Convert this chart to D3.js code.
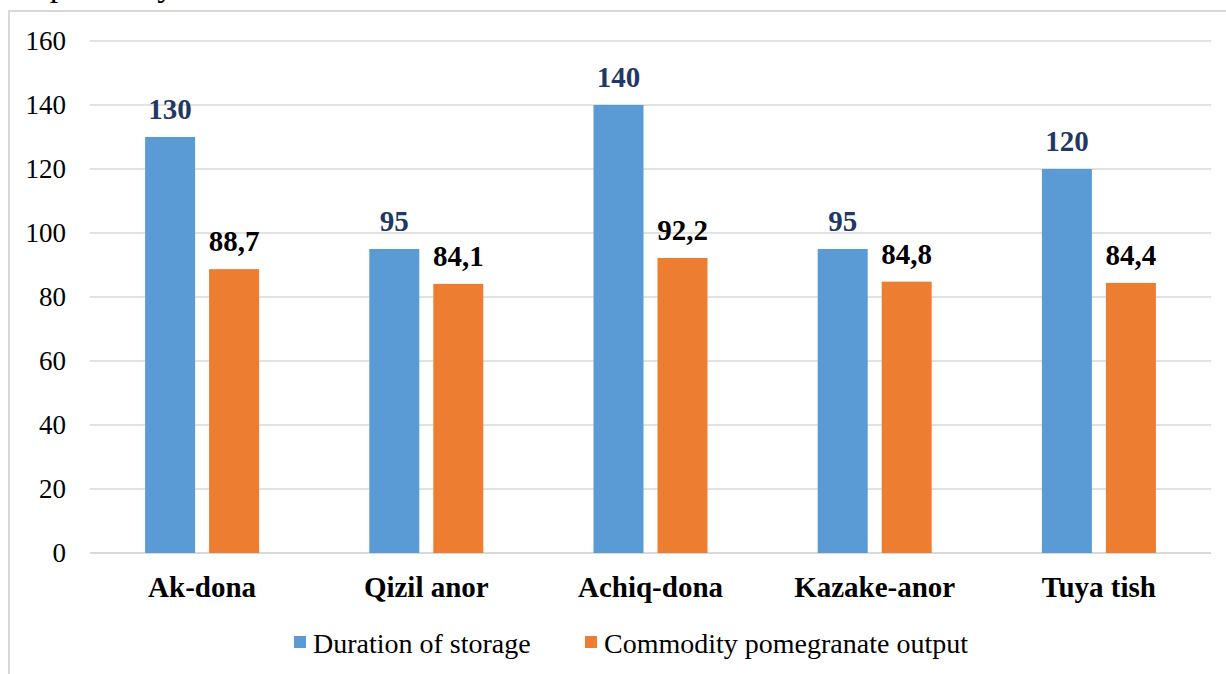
<!DOCTYPE html>
<html>
<head>
<meta charset="utf-8">
<script src="https://cdn.jsdelivr.net/npm/d3@7"></script>
</head>
<body style="margin:0">
<svg id="chart" width="1226" height="674" style="display:block"></svg>
<script>
// Pomegranate varieties and their measured values
const categories = ["Ak-dona", "Qizil anor", "Achiq-dona", "Kazake-anor", "Tuya tish"];
const storageDuration = [130, 95, 140, 95, 120];
const commodityOutput = [88.7, 84.1, 92.2, 84.8, 84.4];
const storageLabels = ["130", "95", "140", "95", "120"];
const outputLabels = ["88,7", "84,1", "92,2", "84,8", "84,4"];
const seriesNames = ["Duration of storage", "Commodity pomegranate output"];
const yTicks = [0, 20, 40, 60, 80, 100, 120, 140, 160];

const colors = ["#5B9BD5", "#ED7D31"];
const labelColors = ["#1F3864", "#000000"];
const FONT = '"Liberation Serif"';

const svg = d3.select("#chart");
const W = 1226, H = 674;

// Text line above the chart frame (only its lower part is in view)
svg.append("text")
  .attr("x", 10).attr("y", -4)
  .style("font-family", FONT)
  .style("font-size", "34px")
  .attr("fill", "#000")
  .text("respectively");

// Chart frame
svg.append("rect")
  .attr("x", 9).attr("y", 11)
  .attr("width", W + 10).attr("height", H + 10)
  .attr("fill", "none")
  .attr("stroke", "#D9D9D9")
  .attr("stroke-width", 2);

const plot = { left: 90, right: 1211, top: 41, bottom: 553 };

const x = d3.scaleBand()
  .domain(categories)
  .range([plot.left, plot.right]);

const y = d3.scaleLinear()
  .domain([0, 160])
  .range([plot.bottom, plot.top]);

const barW = 50, barGap = 14;

// Gridlines
svg.append("g")
  .selectAll("line")
  .data(yTicks)
  .join("line")
  .attr("x1", plot.left).attr("x2", plot.right)
  .attr("y1", d => y(d)).attr("y2", d => y(d))
  .attr("stroke", "#D9D9D9")
  .attr("stroke-width", d => d === 0 ? 2 : 1.5);

// Y axis tick labels
const yAxis = d3.axisLeft(y).tickValues(yTicks).tickSize(0).tickPadding(0).tickFormat(d3.format("d"));
const gy = svg.append("g")
  .attr("transform", `translate(66,0)`)
  .call(yAxis);
gy.select(".domain").remove();
gy.attr("font-family", null).attr("font-size", null);
gy.selectAll("text")
  .style("font-family", FONT)
  .style("font-size", "27px")
  .attr("fill", "#000")
  .attr("dy", "0.33em");

// X axis category labels
const xAxis = d3.axisBottom(x).tickSize(0).tickPadding(0);
const gx = svg.append("g")
  .attr("transform", `translate(0,${plot.bottom})`)
  .call(xAxis);
gx.select(".domain").remove();
gx.attr("font-family", null).attr("font-size", null);
gx.selectAll("text")
  .style("font-family", FONT)
  .style("font-size", "29px")
  .style("font-weight", "bold")
  .attr("fill", "#000")
  .attr("y", 44)
  .attr("dy", 0);

// Bars and value labels
const series = [
  { values: storageDuration, labels: storageLabels },
  { values: commodityOutput, labels: outputLabels }
];

series.forEach((s, si) => {
  const offset = si === 0 ? -(barW + barGap / 2) : barGap / 2;
  const bx = c => x(c) + x.bandwidth() / 2 + offset;

  svg.append("g")
    .selectAll("rect")
    .data(categories)
    .join("rect")
    .attr("x", c => bx(c))
    .attr("y", (c, i) => y(s.values[i]))
    .attr("width", barW)
    .attr("height", (c, i) => y(0) - y(s.values[i]))
    .attr("fill", colors[si]);

  svg.append("g")
    .selectAll("text")
    .data(categories)
    .join("text")
    .attr("x", c => bx(c) + barW / 2)
    .attr("y", (c, i) => y(s.values[i]) - 18)
    .attr("text-anchor", "middle")
    .style("font-family", FONT)
    .style("font-size", "29px")
    .style("font-weight", "bold")
    .attr("fill", labelColors[si])
    .text((c, i) => s.labels[i]);
});

// Legend
const legendItems = [
  { name: seriesNames[0], color: colors[0], x: 294 },
  { name: seriesNames[1], color: colors[1], x: 585 }
];
const lg = svg.append("g");
legendItems.forEach(it => {
  lg.append("rect")
    .attr("x", it.x).attr("y", 636)
    .attr("width", 12).attr("height", 12)
    .attr("fill", it.color);
  lg.append("text")
    .attr("x", it.x + 19).attr("y", 653)
    .style("font-family", FONT)
    .style("font-size", "28px")
    .attr("fill", "#000")
    .text(it.name);
});
</script>
</body>
</html>
